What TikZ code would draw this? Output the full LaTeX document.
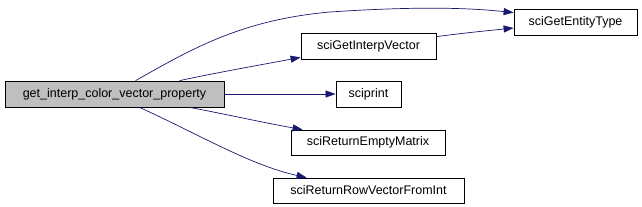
\documentclass[tikz,border=0pt]{standalone}
\usepackage{fontspec}
\setmainfont{Liberation Sans}
\usetikzlibrary{arrows.meta,calc}
\definecolor{edgeblue}{HTML}{191970}
\definecolor{mainfill}{HTML}{BFBFBF}
\begin{document}
\begin{tikzpicture}[x=1pt,y=-1pt,
  box/.style={draw=black,fill=white,inner sep=0pt,font=\fontsize{12.5}{14}\selectfont,line width=0.8pt},
  conn/.style={draw=edgeblue,line width=0.7pt,-{Triangle[length=10pt,width=7pt]}}]
\useasboundingbox (0,0) rectangle (642,206);
\node[box,fill=mainfill,minimum width=219pt,minimum height=26pt] (main) at (114.5,94) {get\_interp\_color\_vector\_property};
\node[box,minimum width=135pt,minimum height=26pt] (giv) at (368.5,46) {sciGetInterpVector};
\node[box,minimum width=123pt,minimum height=26pt] (get) at (575.5,22) {sciGetEntityType};
\node[box,minimum width=65pt,minimum height=26pt] (pr) at (368.5,94) {sciprint};
\node[box,minimum width=154pt,minimum height=25pt] (rem) at (368,142.5) {sciReturnEmptyMatrix};
\node[box,minimum width=191pt,minimum height=25pt] (rrv) at (368.5,190.5) {sciReturnRowVectorFromInt};
\coordinate (m1) at (330,12);
\draw[draw=edgeblue,line width=0.7pt] ($(main.north west)+(131,0)$) .. controls (190,50) and (240,20) .. (m1);
\draw[conn] (m1) .. controls (420,6) and (470,8) .. ($(get.north west)+(0,4)$);
\draw[conn] ($(main.north west)+(175,0)$) .. controls (220,72) and (260,65) .. ($(giv.south west)+(0,-2)$);
\draw[conn] ($(giv.north east)+(0,4)$) .. controls (465,33) .. ($(get.west)+(0,6)$);
\draw[conn] (main.east) -- (pr.west);
\draw[conn] ($(main.south west)+(185,0)$) .. controls (230,115) and (260,122) .. ($(rem.north west)+(12,0)$);
\draw[conn] ($(main.south west)+(135,0)$) .. controls (200,135) and (250,165) .. ($(rrv.north west)+(34,0)$);
\end{tikzpicture}
\end{document}
